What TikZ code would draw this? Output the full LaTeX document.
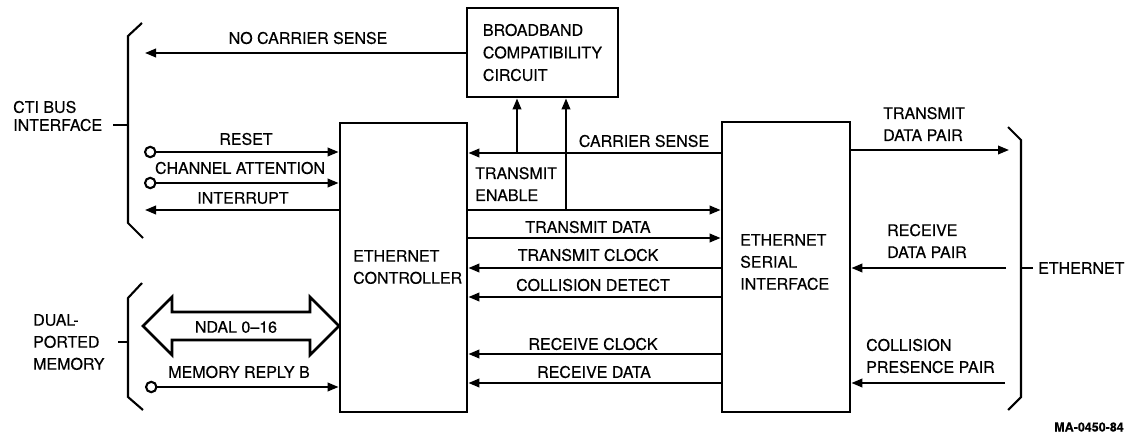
\documentclass[tikz,border=0pt]{standalone}
\usepackage{fontspec}
\setmainfont{TeX Gyre Heros}[FakeBold=0.4]
\usetikzlibrary{arrows.meta}
\begin{document}
\begin{tikzpicture}[x=1pt,y=-1pt,
  lbl/.style={font=\fontsize{16}{22}\selectfont, inner sep=0pt, align=left},
  box/.style={draw, line width=2.8pt, inner sep=0pt, font=\fontsize{16}{22.5}\selectfont, align=left},
  sig/.style={line width=2.1pt},
  brk/.style={line width=2.1pt},
  >={Triangle[length=11pt,width=8.5pt]},
  cin/.style={{Circle[open,length=12.5pt,width=12.5pt]}->}]
\useasboundingbox (0,0) rectangle (1127,433);

% boxes
\node[box, minimum width=151pt, minimum height=89pt] (bbc) at (542.5,52.5) {BROADBAND\\COMPATIBILITY\\CIRCUIT};
\node[box, minimum width=127pt, minimum height=289pt] (ec) at (403.5,267.5) {};
\node[box, minimum width=128pt, minimum height=290pt] (esi) at (786,267) {};
\node[lbl, anchor=west] (ect) at (353,267) {ETHERNET\\CONTROLLER};
\node[lbl, anchor=west] (esit) at (740,262) {ETHERNET\\SERIAL\\INTERFACE};

% brackets and side texts
\draw[brk] (142,23) -- (128,36) -- (128,223) -- (143,238);
\draw[brk] (113,125) -- (128,125);
\draw[brk] (142,283) -- (128,298) -- (128,397) -- (143,410);
\draw[brk] (118,342) -- (128,342);
\draw[brk] (1008,127) -- (1021,140) -- (1021,397) -- (1008,410);
\draw[brk] (1021,268) -- (1033,268);
\node[lbl, anchor=west, font=\fontsize{16}{18}\selectfont] (cti) at (13,116) {CTI BUS\\INTERFACE};
\node[lbl, anchor=west] (dpm) at (33,342) {DUAL-\\PORTED\\MEMORY};
\node[lbl, anchor=west] (eth) at (1038,268) {ETHERNET};

% left signals
\coordinate (ncs) at (145,53);
\draw[sig,->] (bbc.west |- ncs) -- (ncs);
\node[lbl] (ncst) at (308,38) {NO CARRIER SENSE};

\coordinate (rst) at (144,152);
\draw[sig,cin] (rst) -- (rst -| ec.west);
\node[lbl] (rstt) at (246,139) {RESET};
\coordinate (cha) at (144,183);
\draw[sig,cin] (cha) -- (cha -| ec.west);
\node[lbl] (chat) at (240,168) {CHANNEL ATTENTION};
\coordinate (int) at (145,210);
\draw[sig,<-] (int) -- (int -| ec.west);
\node[lbl] (intt) at (243,198) {INTERRUPT};

\draw[line width=2.8pt, line join=miter] (143,326) -- (172,297) -- (172,312) -- (310,312) -- (310,297) -- (339,326) -- (310,355) -- (310,340) -- (172,340) -- (172,355) -- cycle;
\node[lbl] (ndal) at (236,327) {NDAL 0--16};

\coordinate (mrb) at (145,387);
\draw[sig,cin] (mrb) -- (mrb -| ec.west);
\node[lbl] (mrbt) at (239,372) {MEMORY REPLY B};

% middle signals
\coordinate (ycs) at (0,153);
\draw[sig,->] (esi.west |- ycs) -- (ec.east |- ycs);
\node[lbl] (cst) at (644,141) {CARRIER SENSE};
\coordinate (u1) at (517,153);
\draw[sig,->] (u1) -- (u1 |- bbc.south);
\coordinate (yte) at (0,210);
\draw[sig,->] (ec.east |- yte) -- (esi.west |- yte);
\coordinate (u2) at (566,210);
\draw[sig,->] (u2) -- (u2 |- bbc.south);
\node[lbl, anchor=west] (tet) at (475,184) {TRANSMIT\\ENABLE};

\coordinate (ytd) at (0,238);
\draw[sig,->] (ec.east |- ytd) -- (esi.west |- ytd);
\node[lbl] (tdt) at (588,227) {TRANSMIT DATA};
\coordinate (ytc) at (0,268);
\draw[sig,<-] (ec.east |- ytc) -- (esi.west |- ytc);
\node[lbl] (tct) at (588,255) {TRANSMIT CLOCK};
\coordinate (ycd) at (0,297);
\draw[sig,<-] (ec.east |- ycd) -- (esi.west |- ycd);
\node[lbl] (cdt) at (593,285) {COLLISION DETECT};
\coordinate (yrc) at (0,354);
\draw[sig,<-] (ec.east |- yrc) -- (esi.west |- yrc);
\node[lbl] (rct) at (593,344) {RECEIVE CLOCK};
\coordinate (yrd) at (0,383);
\draw[sig,<-] (ec.east |- yrd) -- (esi.west |- yrd);
\node[lbl] (rdt) at (594,372) {RECEIVE DATA};

% right signals
\coordinate (tdp) at (1009,150);
\draw[sig,->] (esi.east |- tdp) -- (tdp);
\node[lbl, anchor=west] (tdpt) at (883,124) {TRANSMIT\\DATA PAIR};
\coordinate (rdp) at (1006,268);
\draw[sig,->] (rdp) -- (esi.east |- rdp);
\node[lbl, anchor=west] (rdpt) at (887,241) {RECEIVE\\DATA PAIR};
\coordinate (cpp) at (1005,383);
\draw[sig,->] (cpp) -- (esi.east |- cpp);
\node[lbl, anchor=west] (cppt) at (866,356) {COLLISION\\PRESENCE PAIR};

\node[font=\fontsize{12.5}{14}\selectfont\bfseries, inner sep=0pt] (ma) at (1089,427) {MA-0450-84};
\end{tikzpicture}
\end{document}
